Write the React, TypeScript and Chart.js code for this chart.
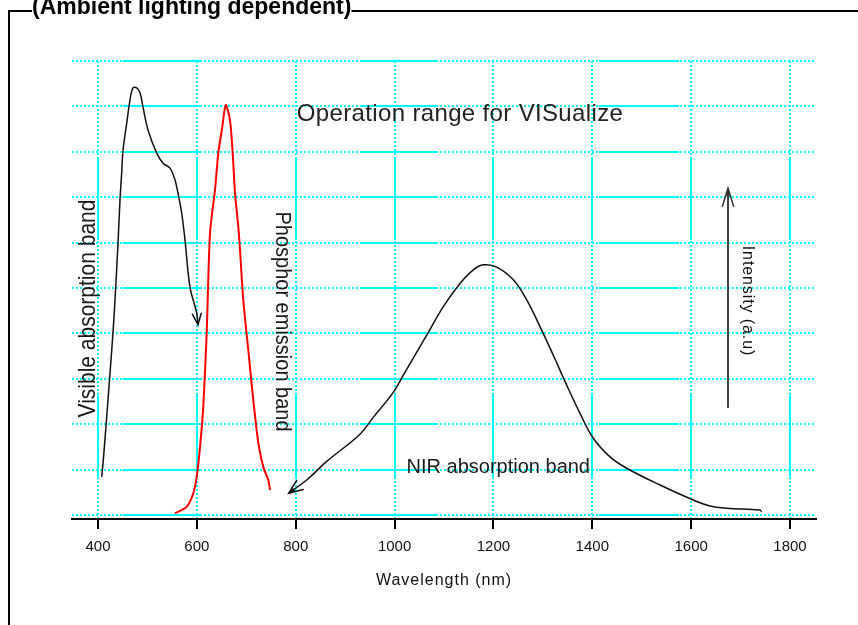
import React, { useEffect, useRef } from "react";
import { Chart, registerables } from "chart.js";

Chart.register(...registerables);

// ---------- data ----------
const xTickValues = [400, 600, 800, 1000, 1200, 1400, 1600, 1800];
const yGridValues = [0, 1, 2, 3, 4, 5, 6, 7, 8, 9, 10];

// Visible absorption band (black, ends in an arrow)
const visibleX = [407.5, 410.7, 417.6, 424.3, 430.3, 434.4, 440.5, 444.5, 447.9, 450.6, 458.1, 464.7, 470.8, 478.3, 485.0, 491.0, 501.2, 518.8, 531.5, 545.7, 555.8, 561.8, 569.3, 576.0, 586.1, 599.7, 602.3];
const visibleY = [0.84, 1.21, 2.16, 3.13, 4.01, 4.74, 5.99, 6.94, 7.53, 8.04, 8.63, 9.14, 9.41, 9.41, 9.30, 8.99, 8.48, 7.97, 7.75, 7.64, 7.38, 7.09, 6.65, 6.06, 5.02, 4.45, 4.19];

// Phosphor emission band (red)
const phosphorX = [555.8, 579.4, 592.8, 599.7, 606.4, 613.0, 619.9, 626.6, 636.7, 643.4, 651.5, 658.4, 667.0, 672.5, 677.2, 683.8, 687.3, 693.9, 704.1, 714.2, 724.3, 734.4, 744.5, 748.0];
const phosphorY = [0.04, 0.18, 0.48, 0.84, 1.50, 2.39, 4.01, 6.21, 7.16, 7.97, 8.55, 9.03, 8.70, 7.97, 7.09, 6.35, 5.84, 4.74, 3.63, 2.53, 1.59, 1.06, 0.77, 0.55];

// NIR absorption band (black, starts with an arrow)
const nirX = [785.8, 822.2, 862.7, 930.0, 956.9, 997.4, 1017.7, 1065.0, 1098.6, 1132.4, 1159.3, 1179.5, 1206.6, 1240.2, 1267.3, 1294.2, 1321.1, 1348.2, 1375.2, 1402.1, 1435.9, 1469.7, 1537.1, 1604.4, 1638.1, 1671.9, 1739.3, 1742.7];
const nirY = [0.48, 0.77, 1.18, 1.78, 2.15, 2.70, 3.08, 3.96, 4.59, 5.10, 5.40, 5.51, 5.46, 5.18, 4.74, 4.15, 3.52, 2.86, 2.24, 1.69, 1.28, 1.03, 0.66, 0.33, 0.20, 0.15, 0.11, 0.07];

// Intensity arrow
const intensityX = [1674.6, 1674.6];
const intensityY = [2.36, 7.2];

// Text labels
const headerTitle = "(Ambient lighting dependent)";
const xAxisTitle = "Wavelength (nm)";
const operationLabel = "Operation range for VISualize";
const visibleLabel = "Visible absorption band";
const phosphorLabel = "Phosphor emission band";
const nirLabel = "NIR absorption band";
const intensityLabel = "Intensity (a.u)";

const FONT = 'Arial, "Liberation Sans", Helvetica, sans-serif';
const CYAN = "#00ffff";

function pts(xs: number[], ys: number[]) {
  return xs.map((x, i) => ({ x, y: ys[i] }));
}

function drawText(
  ctx: CanvasRenderingContext2D,
  text: string,
  x: number,
  y: number,
  o: { size: number; weight?: string; rot?: number; spacing?: number; color?: string; sy?: number; align?: CanvasTextAlign }
) {
  ctx.save();
  ctx.translate(x, y);
  if (o.rot) ctx.rotate(o.rot);
  if (o.sy) ctx.scale(1, o.sy);
  ctx.font = `${o.weight || "normal"} ${o.size}px ${FONT}`;
  (ctx as any).letterSpacing = `${o.spacing || 0}px`;
  ctx.fillStyle = o.color || "#1a1a1a";
  ctx.textAlign = o.align || "center";
  ctx.textBaseline = "alphabetic";
  ctx.fillText(text, 0, 0);
  ctx.restore();
}

function arrowHead(
  ctx: CanvasRenderingContext2D,
  tip: { x: number; y: number },
  from: { x: number; y: number },
  len: number,
  ang: number,
  color: string,
  width: number,
  fill: boolean
) {
  const a = Math.atan2(tip.y - from.y, tip.x - from.x);
  const p1 = { x: tip.x - len * Math.cos(a - ang), y: tip.y - len * Math.sin(a - ang) };
  const p2 = { x: tip.x - len * Math.cos(a + ang), y: tip.y - len * Math.sin(a + ang) };
  ctx.save();
  ctx.strokeStyle = color;
  ctx.fillStyle = color;
  ctx.lineWidth = width;
  ctx.lineCap = "round";
  ctx.beginPath();
  ctx.moveTo(p1.x, p1.y);
  ctx.lineTo(tip.x, tip.y);
  ctx.lineTo(p2.x, p2.y);
  ctx.stroke();
  if (fill) {
    const l2 = len * 0.45;
    ctx.beginPath();
    ctx.moveTo(tip.x, tip.y);
    ctx.lineTo(tip.x - l2 * Math.cos(a - ang * 0.7), tip.y - l2 * Math.sin(a - ang * 0.7));
    ctx.lineTo(tip.x - l2 * Math.cos(a + ang * 0.7), tip.y - l2 * Math.sin(a + ang * 0.7));
    ctx.closePath();
    ctx.fill();
  }
  ctx.restore();
}

const decorPlugin = {
  id: "decor",
  beforeDraw(chart: any) {
    const ctx = chart.ctx as CanvasRenderingContext2D;
    ctx.save();
    ctx.fillStyle = "#ffffff";
    ctx.fillRect(0, 0, chart.width, chart.height);
    // outer frame
    ctx.strokeStyle = "#000";
    ctx.lineWidth = 2;
    ctx.beginPath();
    ctx.moveTo(chart.width, 11);
    ctx.lineTo(9, 11);
    ctx.lineTo(9, chart.height);
    ctx.stroke();
    ctx.restore();
  },
  beforeDatasetsDraw(chart: any) {
    // solid stretches of the cyan grid (aliasing of the original dotted grid)
    const ctx = chart.ctx as CanvasRenderingContext2D;
    const xs = chart.scales.x;
    const ys = chart.scales.y;
    const hRanges = [[450.6, 608.4], [930, 1088], [1413.6, 1575.4]];
    const vRanges = [[6.06, 7.86], [0.84, 2.64]];
    ctx.save();
    ctx.strokeStyle = CYAN;
    ctx.lineWidth = 2;
    ctx.setLineDash([]);
    ctx.beginPath();
    yGridValues.forEach((v) => {
      const y = Math.round(ys.getPixelForValue(v));
      hRanges.forEach(([a, b]) => {
        ctx.moveTo(xs.getPixelForValue(a), y);
        ctx.lineTo(xs.getPixelForValue(b), y);
      });
    });
    xTickValues.forEach((v) => {
      const x = Math.round(xs.getPixelForValue(v));
      vRanges.forEach(([a, b]) => {
        ctx.moveTo(x, ys.getPixelForValue(a));
        ctx.lineTo(x, ys.getPixelForValue(b));
      });
    });
    ctx.stroke();
    ctx.restore();
  },
  afterDatasetsDraw(chart: any) {
    const ctx = chart.ctx as CanvasRenderingContext2D;
    const xs = chart.scales.x;
    const ys = chart.scales.y;
    // arrow heads
    const vis = chart.getDatasetMeta(0).data;
    arrowHead(ctx, vis[vis.length - 1], vis[vis.length - 2], 12, 0.38, "#111", 1.5, false);
    const nir = chart.getDatasetMeta(2).data;
    arrowHead(ctx, nir[0], nir[1], 15, 0.38, "#111", 1.5, true);
    const inten = chart.getDatasetMeta(3).data;
    arrowHead(ctx, inten[1], inten[0], 19, 0.3, "#333", 1.5, true);

    const X = (v: number) => xs.getPixelForValue(v);
    const Y = (v: number) => ys.getPixelForValue(v);
    drawText(ctx, operationLabel, X(1132.4), Y(8.685), { size: 24, spacing: 0.35, color: "#222" });
    drawText(ctx, nirLabel, X(1209.8), Y(0.925), { size: 20, color: "#1a1a1a" });
    drawText(ctx, visibleLabel, X(393.9), Y(4.548), { size: 21, rot: -Math.PI / 2, sy: 1.1 });
    drawText(ctx, phosphorLabel, X(760.1), Y(4.262), { size: 20, rot: Math.PI / 2, sy: 1.1 });
    drawText(ctx, intensityLabel, X(1704.9), Y(4.714), { size: 16, rot: Math.PI / 2, spacing: 0.9, color: "#111" });
  },
  afterDraw(chart: any) {
    const ctx = chart.ctx as CanvasRenderingContext2D;
    const area = chart.chartArea;
    // x axis title
    drawText(ctx, xAxisTitle, (area.left + area.right) / 2, area.bottom + 66, { size: 16, spacing: 1, color: "#111" });
    // header title, clipped at the top of the page
    ctx.save();
    ctx.font = `bold 23px ${FONT}`;
    const w = ctx.measureText(headerTitle).width;
    ctx.fillStyle = "#fff";
    ctx.fillRect(32, 8, w, 6);
    ctx.restore();
    drawText(ctx, headerTitle, 32, 14, { size: 23, weight: "bold", align: "left", color: "#000" });
  },
};

export default function App() {
  const ref = useRef<HTMLCanvasElement | null>(null);
  useEffect(() => {
    if (!ref.current) return;
    const chart = new Chart(ref.current, {
      type: "line",
      data: {
        datasets: [
          {
            label: visibleLabel,
            data: pts(visibleX, visibleY),
            borderColor: "#111",
            borderWidth: 1.5,
            pointRadius: 0,
            tension: 0.35,
          },
          {
            label: phosphorLabel,
            data: pts(phosphorX, phosphorY),
            borderColor: "#ff0000",
            borderWidth: 2,
            pointRadius: 0,
            tension: 0.25,
          },
          {
            label: nirLabel,
            data: pts(nirX, nirY),
            borderColor: "#111",
            borderWidth: 1.5,
            pointRadius: 0,
            tension: 0.4,
          },
          {
            label: intensityLabel,
            data: pts(intensityX, intensityY),
            borderColor: "#444",
            borderWidth: 2,
            pointRadius: 0,
          },
        ],
      } as any,
      options: {
        animation: false,
        responsive: false,
        events: [],
        layout: { padding: { left: 72, top: 61, right: 42, bottom: 0 } },
        plugins: { legend: { display: false }, tooltip: { enabled: false }, title: { display: false } },
        scales: {
          x: {
            type: "linear",
            min: 347.4,
            max: 1852.6,
            afterBuildTicks: (s: any) => {
              s.ticks = xTickValues.map((v) => ({ value: v }));
            },
            afterFit: (s: any) => {
              s.height = 106;
            },
            ticks: {
              autoSkip: false,
              maxRotation: 0,
              padding: 9,
              color: "#111",
              font: { family: FONT, size: 15 },
              callback: (v: any) => String(v),
            },
            grid: {
              color: CYAN,
              lineWidth: 2,
              drawTicks: true,
              tickLength: 10,
              tickColor: "#000",
              tickWidth: 2,
              tickBorderDash: [],
            },
            border: { display: true, color: "#000", width: 2, dash: [2, 2] },
          },
          y: {
            type: "linear",
            min: -0.088,
            max: 10,
            afterBuildTicks: (s: any) => {
              s.ticks = yGridValues.map((v) => ({ value: v }));
            },
            afterFit: (s: any) => {
              s.width = 0;
            },
            ticks: { display: false },
            grid: { color: CYAN, lineWidth: 2, drawTicks: false },
            border: { display: false, dash: [2, 2] },
          },
        },
      } as any,
      plugins: [decorPlugin],
    });
    return () => chart.destroy();
  }, []);
  return (
    <div style={{ position: "fixed", left: 0, top: 0, width: 858, height: 625, background: "#fff" }}>
      <canvas ref={ref} width={858} height={625} style={{ display: "block", width: 858, height: 625 }} />
    </div>
  );
}
